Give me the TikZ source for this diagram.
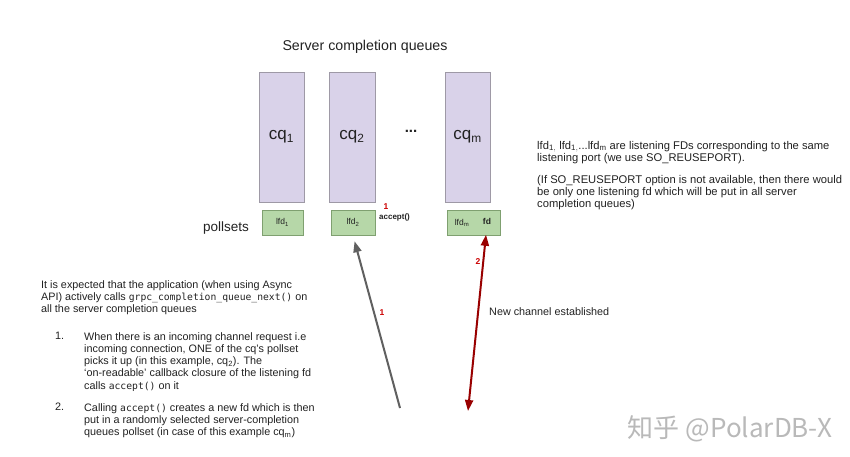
\documentclass[tikz,border=0pt]{standalone}
\usepackage{fontspec}
\setmainfont{Liberation Sans}
\setmonofont{DejaVu Sans Mono}
\newfontfamily\cjk{Noto Sans CJK SC}
\usetikzlibrary{arrows.meta}
\definecolor{cqfill}{HTML}{D9D2E9}
\definecolor{cqdraw}{HTML}{9E99A6}
\definecolor{pfill}{HTML}{B6D7A8}
\definecolor{pdraw}{HTML}{7FA070}
\definecolor{dred}{HTML}{990000}
\definecolor{lred}{HTML}{CC0000}
\definecolor{txt}{HTML}{222222}
\newcommand{\codett}[1]{{\ttfamily\fontsize{9.7}{12}\selectfont #1}}
\tikzset{
  cqbox/.style={draw=cqdraw, line width=0.9pt, fill=cqfill, minimum height=130pt, inner sep=0pt, font=\fontsize{17}{19}\selectfont, text=txt},
  pbox/.style={draw=pdraw, line width=0.9pt, fill=pfill, minimum height=25pt, inner sep=0pt, font=\fontsize{8.5}{10}\selectfont, text=txt},
  lbody/.style={inner sep=0pt, align=left, font=\fontsize{10.8}{12.3}\selectfont, text=txt},
  rbody/.style={inner sep=0pt, align=left, font=\fontsize{11.2}{12.2}\selectfont, text=txt},
  rnum/.style={inner sep=0pt, font=\bfseries\fontsize{8.5}{10}\selectfont, text=lred},
  garrow/.style={draw=gray!75!black, line width=2pt, -{Triangle[length=11pt,width=8pt]}},
  rarrow/.style={draw=dred, line width=2pt, {Triangle[length=11pt,width=8pt]}-{Triangle[length=11pt,width=8pt]}}
}
\begin{document}
\begin{tikzpicture}[x=1pt,y=-1pt]
\useasboundingbox (0,0) rectangle (850,457);
\fill[white] (0,0) rectangle (850,457);

\node[inner sep=0pt, font=\fontsize{14.2}{16}\selectfont, text=txt] (title) at (365,47) {Server completion queues};

\node[cqbox, minimum width=45pt] (cq1) at (281.5,137) {cq$_{\mathrm{1}}$};
\node[cqbox, minimum width=46pt] (cq2) at (352,137) {cq$_{\mathrm{2}}$};
\node[cqbox, minimum width=45pt] (cqm) at (467.5,137) {cq$_{\mathrm{m}}$};
\node[inner sep=0pt, font=\bfseries\fontsize{15}{17}\selectfont, text=txt] (dots) at (411,131) {...};

\node[inner sep=0pt, font=\fontsize{13.5}{15}\selectfont, text=txt] (pollsets) at (226,228) {pollsets};
\node[pbox, minimum width=41pt] (lfd1) at (282.5,222.5) {lfd$_{\mathrm{1}}$};
\node[pbox, minimum width=44pt] (lfd2) at (353,222.5) {lfd$_{\mathrm{2}}$};
\node[pbox, minimum width=53pt] (lfdm) at (473.5,222.5) {};
\node[inner sep=0pt, font=\fontsize{8.5}{10}\selectfont, text=txt] (lfdmt) at (462,222.5) {lfd$_{\mathrm{m}}$};
\node[inner sep=0pt, font=\bfseries\fontsize{8.5}{10}\selectfont, text=txt] (fdn) at (487,221.5) {fd};

\node[rnum] (n1a) at (386,207) {1};
\node[inner sep=0pt, anchor=west, font=\bfseries\fontsize{8}{9}\selectfont, text=txt] (acc) at (379,217) {accept()};

\coordinate (g1) at (400,408);
\coordinate (r1) at (468,411);
\draw[garrow, shorten >=6pt] (g1) -- (lfd2.south);
\draw[rarrow, shorten >=10pt] (r1) -- (fdn.south);

\node[rnum] (n1b) at (382,313) {1};
\node[rnum] (n2) at (478,262) {2};
\node[lbody, anchor=west] (newch) at (489,312) {New channel established};

\node[rbody, anchor=north west] (right1) at (537,141) {lfd$_{\mathrm{1,}}$ lfd$_{\mathrm{1,}}$...lfd$_{\mathrm{m}}$ are listening FDs corresponding to the same\\listening port (we use SO\_REUSEPORT).};
\node[rbody, anchor=north west] (right2) at (537,175) {(If SO\_REUSEPORT option is not available, then there would\\be only one listening fd which will be put in all server\\completion queues)};

\node[lbody, anchor=north west] (left1) at (41,280) {It is expected that the application (when using Async\\API) actively calls \codett{grpc\_completion\_queue\_next()} on\\all the server completion queues};
\node[lbody, anchor=north west] (i1n) at (55,332) {1.};
\node[lbody, anchor=north west] (i1) at (84,332) {When there is an incoming channel request i.e\\incoming connection, ONE of the cq's pollset\\picks it up (in this example, cq$_{\mathrm{2}}$). The\\`on-readable' callback closure of the listening fd\\calls \codett{accept()} on it};
\node[lbody, anchor=north west] (i2n) at (55,403) {2.};
\node[lbody, anchor=north west] (i2) at (84,403) {Calling \codett{accept()} creates a new fd which is then\\put in a randomly selected server-completion\\queues pollset (in case of this example cq$_{\mathrm{m}}$)};

\node[inner sep=0pt, text=gray!55, font=\cjk\fontsize{26}{28}\selectfont] (wm) at (730,429) {知乎 @PolarDB-X};
\end{tikzpicture}
\end{document}
